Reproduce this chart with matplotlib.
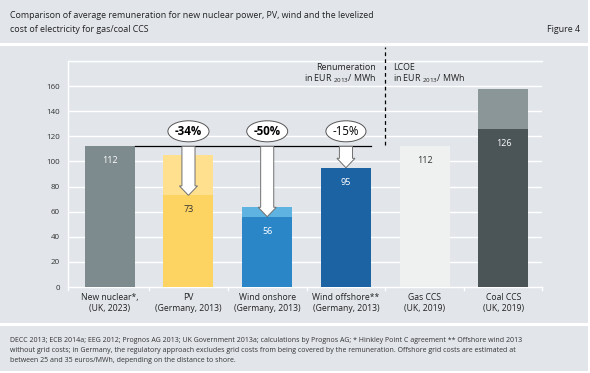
import matplotlib
matplotlib.use("Agg")
import matplotlib.pyplot as plt
from matplotlib.patches import Rectangle, Polygon

plt.rcParams['font.family'] = ['Open Sans', 'DejaVu Sans']
plt.rcParams['mathtext.fontset'] = 'custom'
plt.rcParams['mathtext.rm'] = 'Open Sans'

# ---- data ----
categories = ["New nuclear*,\n(UK, 2023)", "PV\n(Germany, 2013)", "Wind onshore\n(Germany, 2013)",
              "Wind offshore**\n(Germany, 2013)", "Gas CCS\n(UK, 2019)", "Coal CCS\n(UK, 2019)"]
main_values = [112, 73, 56, 95, 112, 126]
upper_values = [112, 105, 64, 95, 112, 158]   # top of light segment
reference_value = 112
reductions = ["-34%", "-50%", "-15%"]
reduction_idx = [1, 2, 3]
reduction_bold = [True, True, False]
y_ticks = [0, 20, 40, 60, 80, 100, 120, 140, 160]

dark_colors = ["#7d8a8e", "#fdd462", "#2b86c8", "#1b63a3", "#eff0f0", "#4b5457"]
light_colors = ["#7d8a8e", "#fee08f", "#5fb3e0", "#1b63a3", "#eff0f0", "#8a9698"]
label_colors = ["white", "#333333", "white", "white", "#333333", "white"]

panel = "#e2e5ea"

fig = plt.figure(figsize=(5.90, 3.73), dpi=100)
W, H = 590, 373

def fr(x0, y0, x1, y1):
    return (x0 / W, 1 - y1 / H, (x1 - x0) / W, (y1 - y0) / H)

for (x0, y0, x1, y1) in [(0, 0, 588, 43), (0, 46, 588, 323), (0, 326, 588, 371)]:
    l, b, w, h = fr(x0, y0, x1, y1)
    fig.add_artist(Rectangle((l, b), w, h, transform=fig.transFigure,
                             facecolor=panel, edgecolor='none', zorder=0))

fig.text(10 / W, 1 - 16 / H, "Comparison of average remuneration for new nuclear power, PV, wind and the levelized",
         fontsize=6.4, color="#222222", va='center', ha='left')
fig.text(10 / W, 1 - 29 / H, "cost of electricity for gas/coal CCS",
         fontsize=6.4, color="#222222", va='center', ha='left')
fig.text(580 / W, 1 - 29 / H, "Figure 4", fontsize=6.4, color="#222222", va='center', ha='right')

footer = ["DECC 2013; ECB 2014a; EEG 2012; Prognos AG 2013; UK Government 2013a; calculations by Prognos AG; * Hinkley Point C agreement ** Offshore wind 2013",
          "without grid costs; in Germany, the regulatory approach excludes grid costs from being covered by the remuneration. Offshore grid costs are estimated at",
          "between 25 and 35 euros/MWh, depending on the distance to shore."]
for i, line in enumerate(footer):
    fig.text(10 / W, 1 - (341 + i * 10) / H, line, fontsize=5.0, color="#333333", va='center', ha='left')

ax = fig.add_axes([68 / W, 1 - 287 / H, (542 - 68) / W, (287 - 61) / H])
ax.set_facecolor('none')
ax.set_xlim(-0.53, 5.49)
ax.set_ylim(0, 180)
for s in ['right']:
    ax.spines[s].set_visible(False)
for s in ['left', 'bottom', 'top']:
    ax.spines[s].set_color('white')
    ax.spines[s].set_linewidth(1.0)
for yv in y_ticks[1:] + [180]:
    ax.axhline(yv, color='white', lw=1.0, zorder=0.5)

x = list(range(len(categories)))
bw = 0.635
ax.bar(x, upper_values, width=bw, color=light_colors, zorder=2)
ax.bar(x, main_values, width=bw, color=dark_colors, zorder=3)
for xi, v, c in zip(x, main_values, label_colors):
    ax.text(xi, v - 11.5, str(v), ha='center', va='center', fontsize=6.5, color=c, zorder=6)

ax.set_yticks(y_ticks)
ax.set_yticklabels([str(t) for t in y_ticks], fontsize=5.8, color="#333333")
ax.tick_params(axis='y', length=0, pad=6)
ax.set_xticks(x)
ax.set_xticklabels(categories, fontsize=6.2, color="#222222", linespacing=1.4)
ax.tick_params(axis='x', length=0, pad=4)
for b in [-0.53] + [k + 0.5 for k in range(5)] + [5.49]:
    ax.plot([b, b], [0, -2.5], color='white', lw=1.0, clip_on=False, zorder=4)

# reference line
ax.plot([0 + bw / 2, 3 + bw / 2], [reference_value, reference_value], color='black', lw=0.9, zorder=5)

# arrows
sh = 0.083
hh = 0.115
hl = 7.5
for idx, lab, bold in zip(reduction_idx, reductions, reduction_bold):
    top = reference_value
    tip = main_values[idx]
    pts = [(idx - sh, top), (idx + sh, top), (idx + sh, tip + hl), (idx + hh, tip + hl),
           (idx, tip), (idx - hh, tip + hl), (idx - sh, tip + hl)]
    ax.add_patch(Polygon(pts, closed=True, facecolor='white', edgecolor='#6f6f6f', lw=0.7, zorder=5))
    ax.text(idx, reference_value + 12, lab, ha='center', va='center', fontsize=8.3,
            fontweight='bold' if bold else 'normal', color='black', zorder=7,
            bbox=dict(boxstyle='ellipse,pad=0.08', facecolor='white', edgecolor='#555555', lw=0.7))

# divider
ax.plot([3.5, 3.5], [113, 191], color='black', lw=0.9, ls=(0, (3, 2.5)), clip_on=False, zorder=5)
ax.text(3.38, 175, "Renumeration", ha='right', va='center', fontsize=6.4, color="#222222")
ax.text(3.38, 166, r"in EUR $_{\mathregular{2013}}$/ MWh", ha='right', va='center', fontsize=6.4, color="#222222")
ax.text(3.6, 175, "LCOE", ha='left', va='center', fontsize=6.4, color="#222222")
ax.text(3.6, 166, r"in EUR $_{\mathregular{2013}}$/ MWh", ha='left', va='center', fontsize=6.4, color="#222222")

fig.savefig("out.png", dpi=100, facecolor='white')
